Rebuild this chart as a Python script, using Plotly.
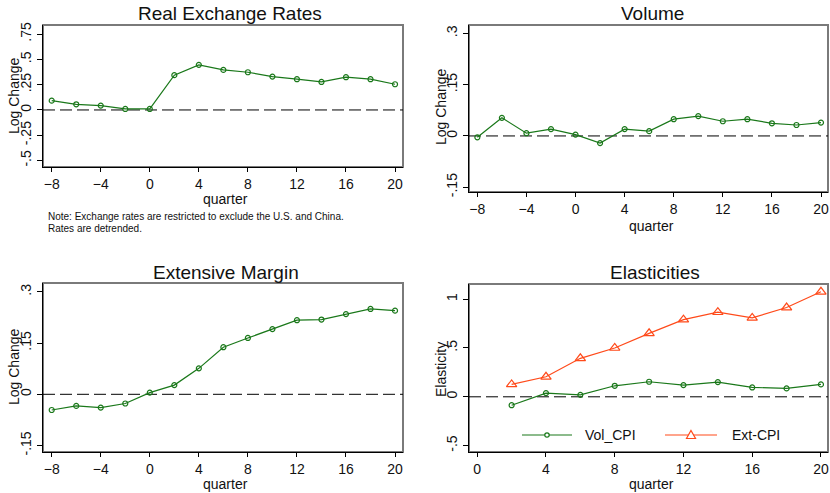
import plotly.graph_objects as go

W, H = 830, 493

# Event-time quarters
quarters = [-8, -6, -4, -2, 0, 2, 4, 6, 8, 10, 12, 14, 16, 18, 20]
quarters_post = [2, 4, 6, 8, 10, 12, 14, 16, 18, 20]

# Series (log changes)
rer = [0.092, 0.056, 0.043, 0.010, 0.010, 0.344, 0.446, 0.396, 0.373, 0.330,
       0.304, 0.277, 0.324, 0.304, 0.254]
volume = [-0.004, 0.053, 0.008, 0.020, 0.004, -0.021, 0.020, 0.014, 0.049, 0.058,
          0.043, 0.049, 0.037, 0.032, 0.039]
ext_margin = [-0.046, -0.034, -0.039, -0.027, 0.005, 0.027, 0.076, 0.138, 0.165,
              0.191, 0.217, 0.219, 0.235, 0.250, 0.245]

# Elasticities
vol_cpi = [-0.086, 0.038, 0.020, 0.113, 0.154, 0.120, 0.151, 0.096, 0.086, 0.127]
ext_cpi = [0.127, 0.205, 0.394, 0.500, 0.650, 0.790, 0.866, 0.808, 0.914, 1.075]
legend_names = ["Vol_CPI", "Ext-CPI"]

# Tick labels
x_ticks_q = [-8, -4, 0, 4, 8, 12, 16, 20]
x_ticks_e = [0, 4, 8, 12, 16, 20]
y1_vals = [-0.5, -0.25, 0, 0.25, 0.5, 0.75]
y1_text = ["-.5", "-.25", "0", ".25", ".5", ".75"]
y2_vals = [-0.15, 0, 0.15, 0.3]
y2_text = ["-.15", "0", ".15", ".3"]
y4_vals = [-0.5, 0, 0.5, 1]
y4_text = ["-.5", "0", ".5", "1"]

GREEN = "#1a781a"
ORANGE = "#ff4a1a"
FONT = "Liberation Sans, Arial, sans-serif"


def px_x(p):
    return p / W


def px_y(p):
    return 1 - p / H


fig = go.Figure()

# panel layout: (axis suffix, x px range, y px range, x range, y range, ticks)
panels = [
    ("", (43, 403), (25, 167), [-8.71, 20.65], [-0.564, 0.84], x_ticks_q, y1_vals, y1_text),
    ("2", (469, 828), (25, 192), [-8.68, 20.57], [-0.164, 0.3246], x_ticks_q, y2_vals, y2_text),
    ("3", (43, 403), (283, 452), [-8.71, 20.65], [-0.169, 0.326], x_ticks_q, y2_vals, y2_text),
    ("4", (469, 828), (284, 452), [-0.48, 20.41], [-0.565, 1.155], x_ticks_e, y4_vals, y4_text),
]

layout_axes = {}
shapes = []
for suf, (x0, x1), (y0, y1), xr, yr, xt, yv, yt in panels:
    layout_axes["xaxis" + suf] = dict(
        domain=[px_x(x0), px_x(x1)], range=xr, anchor="y" + suf,
        tickvals=xt, ticks="outside", ticklen=4, tickcolor="black",
        showline=True, linecolor="black", linewidth=1, showgrid=False,
        zeroline=False, automargin=False,
        tickfont=dict(family=FONT, size=14, color="#111"),
    )
    layout_axes["yaxis" + suf] = dict(
        domain=[px_y(y1), px_y(y0)], range=yr, anchor="x" + suf,
        tickvals=yv, ticktext=yt, tickangle=-90, ticks="outside", ticklen=5,
        tickcolor="black", showline=True, linecolor="black", linewidth=1,
        showgrid=False, zeroline=False, automargin=False,
        tickfont=dict(family=FONT, size=14, color="#111"),
    )
    xref = "x" + suf + " domain"
    yref = "y" + suf + " domain"
    # plot-region frame
    shapes.append(dict(type="rect", xref=xref, yref=yref, x0=0, x1=1, y0=0, y1=1,
                       line=dict(color="#7a7a7a", width=2), layer="below"))
    # dashed reference line at zero
    shapes.append(dict(type="line", xref=xref, yref="y" + suf, x0=0, x1=1, y0=0, y1=0,
                       line=dict(color="black", width=1, dash="12px,5px"), layer="below"))

line_style = dict(color=GREEN, width=1.2)
circ = dict(symbol="circle-open", size=5, color=GREEN, line=dict(width=1.2, color=GREEN))
tri = dict(symbol="triangle-up-open", size=9, color=ORANGE, line=dict(width=1.2, color=ORANGE))

fig.add_trace(go.Scatter(x=quarters, y=rer, mode="lines+markers", line=line_style,
                         marker=circ, xaxis="x", yaxis="y"))
fig.add_trace(go.Scatter(x=quarters, y=volume, mode="lines+markers", line=line_style,
                         marker=circ, xaxis="x2", yaxis="y2"))
fig.add_trace(go.Scatter(x=quarters, y=ext_margin, mode="lines+markers", line=line_style,
                         marker=circ, xaxis="x3", yaxis="y3"))
fig.add_trace(go.Scatter(x=quarters_post, y=vol_cpi, mode="lines+markers", name=legend_names[0],
                         line=line_style, marker=circ, xaxis="x4", yaxis="y4"))
fig.add_trace(go.Scatter(x=quarters_post, y=ext_cpi, mode="lines+markers", name=legend_names[1],
                         line=dict(color=ORANGE, width=1.2), marker=tri,
                         xaxis="x4", yaxis="y4"))

annotations = []


def text(x, y, s, size, angle=0, xanchor="center", yanchor="middle"):
    annotations.append(dict(xref="paper", yref="paper", x=px_x(x), y=px_y(y), text=s,
                            showarrow=False, textangle=angle, xanchor=xanchor,
                            yanchor=yanchor, font=dict(family=FONT, size=size, color="#111")))


# panel titles
text(230, 14, "Real Exchange Rates", 19)
text(652, 14, "Volume", 19)
text(226, 272, "Extensive Margin", 19)
text(655, 272, "Elasticities", 19)
# x-axis titles
text(225, 199, "quarter", 14)
text(651, 226, "quarter", 14)
text(225, 484, "quarter", 14)
text(651, 484, "quarter", 14)
# y-axis titles
text(14, 96, "Log Change", 14, angle=-90)
text(441, 107, "Log Change", 14, angle=-90)
text(14, 367, "Log Change", 14, angle=-90)
text(441, 370, "Elasticity", 14, angle=-90)
# note under the first panel
text(46, 216, "Note: Exchange rates are restricted to exclude the U.S. and China.", 10,
     xanchor="left")
text(46, 228, "Rates are detrended.", 10, xanchor="left")

# legend key drawn inside the Elasticities panel
leg_y = px_y(435)
for (lx0, lx1, tx), name, color, kind in [((522, 572, 583), legend_names[0], GREEN, "circle"),
                                          ((665, 717, 730), legend_names[1], ORANGE, "triangle")]:
    shapes.append(dict(type="line", xref="paper", yref="paper", x0=px_x(lx0), x1=px_x(lx1),
                       y0=leg_y, y1=leg_y, line=dict(color=color, width=1.2)))
    cx = (lx0 + lx1) / 2
    if kind == "circle":
        shapes.append(dict(type="circle", xref="paper", yref="paper",
                           x0=px_x(cx - 2.2), x1=px_x(cx + 2.2),
                           y0=px_y(435 + 2.2), y1=px_y(435 - 2.2),
                           line=dict(color=color, width=1.2), fillcolor="white"))
    else:
        path = "M {:.4f} {:.4f} L {:.4f} {:.4f} L {:.4f} {:.4f} Z".format(
            px_x(cx - 4.5), px_y(438.5), px_x(cx + 4.5), px_y(438.5), px_x(cx), px_y(430.5))
        shapes.append(dict(type="path", xref="paper", yref="paper", path=path,
                           line=dict(color=color, width=1.2), fillcolor="white"))
    text(tx, 435, name, 14, xanchor="left")

fig.update_layout(
    width=W, height=H, margin=dict(l=0, r=0, t=0, b=0),
    paper_bgcolor="white", plot_bgcolor="white", showlegend=False,
    shapes=shapes, annotations=annotations,
    **layout_axes,
)

fig.write_html("out.html")
